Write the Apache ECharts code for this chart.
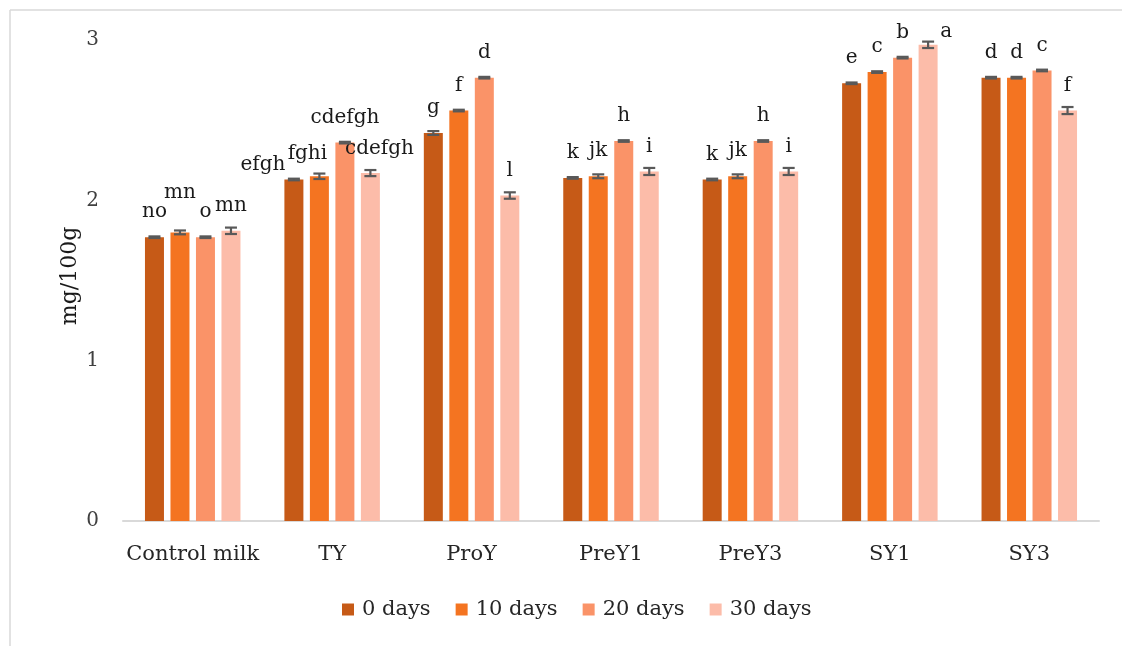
<!DOCTYPE html>
<html>
<head>
<meta charset="utf-8">
<script src="https://cdn.jsdelivr.net/npm/echarts@6/dist/echarts.min.js"></script>
<style>
  html, body { margin: 0; padding: 0; background: #ffffff; }
  #chart { width: 1122px; height: 646px; }
</style>
</head>
<body>
<div id="chart"></div>
<script>
// Sample groups on the x axis
const categories = ['Control milk', 'TY', 'ProY', 'PreY1', 'PreY3', 'SY1', 'SY3'];
const seriesNames = ['0 days', '10 days', '20 days', '30 days'];

// Mean content (mg/100g) per storage day
const day0  = [1.77, 2.13, 2.42, 2.14, 2.13, 2.73, 2.765];
const day10 = [1.80, 2.15, 2.56, 2.15, 2.15, 2.80, 2.765];
const day20 = [1.77, 2.36, 2.765, 2.37, 2.37, 2.89, 2.81];
const day30 = [1.81, 2.17, 2.03, 2.18, 2.18, 2.97, 2.56];

// Standard deviation (half length of each error bar)
const err0  = [0.005, 0.005, 0.012, 0.005, 0.005, 0.005, 0.005];
const err10 = [0.012, 0.017, 0.005, 0.012, 0.012, 0.005, 0.005];
const err20 = [0.005, 0.005, 0.005, 0.005, 0.005, 0.005, 0.005];
const err30 = [0.02, 0.019, 0.02, 0.022, 0.022, 0.02, 0.022];

// Significance letters above each bar
const letters0  = ['no', 'efgh', 'g', 'k', 'k', 'e', 'd'];
const letters10 = ['mn', 'fghi', 'f', 'jk', 'jk', 'c', 'd'];
const letters20 = ['o', 'cdefgh', 'd', 'h', 'h', 'b', 'c'];
const letters30 = ['mn', 'cdefgh', 'l', 'i', 'i', 'a', 'f'];

// Y axis ticks
const yTicks = [0, 1, 2, 3];

const values = [day0, day10, day20, day30];
const errors = [err0, err10, err20, err30];
const letters = [letters0, letters10, letters20, letters30];
const colors = ['#C65A17', '#F47421', '#FA9368', '#FCBCA9'];

// Letter placement tweaks where letters would collide: [series]-[category] -> [dx, dy]
const labelNudge = {
  '1-0': [0, -15],
  '0-1': [-31, 10],
  '1-1': [-12, 3],
  '3-1': [9, 1],
  '3-5': [18, 12]
};

const BAR_W = 19;
const BAR_STEP = 25.5;
const serif = 'DejaVu Serif';

const chart = echarts.init(document.getElementById('chart'));

const barSeries = values.map((vals, s) => ({
  name: seriesNames[s],
  type: 'bar',
  barWidth: BAR_W,
  barGap: ((BAR_STEP - BAR_W) / BAR_W * 100).toFixed(1) + '%',
  itemStyle: { color: colors[s] },
  z: 2,
  data: vals.map((v, c) => {
    const nudge = labelNudge[s + '-' + c];
    const item = { value: v };
    if (nudge) item.label = { offset: nudge };
    return item;
  }),
  label: {
    show: true,
    position: 'top',
    distance: 15,
    fontFamily: serif,
    fontSize: 20,
    color: '#1a1a1a',
    formatter: p => letters[s][p.dataIndex]
  }
}));

const errorSeries = values.map((vals, s) => ({
  name: seriesNames[s] + ' sd',
  type: 'custom',
  z: 5,
  silent: true,
  data: vals.map((v, c) => [c, v, errors[s][c]]),
  renderItem: (params, api) => {
    const c = api.value(0), v = api.value(1), e = api.value(2);
    const dx = (s - 1.5) * BAR_STEP;
    const hi = api.coord([c, v + e]);
    const lo = api.coord([c, v - e]);
    const x = hi[0] + dx;
    const half = 6;
    const style = { stroke: '#595959', lineWidth: 2.2 };
    return {
      type: 'group',
      children: [
        { type: 'line', shape: { x1: x, y1: hi[1], x2: x, y2: lo[1] }, style },
        { type: 'line', shape: { x1: x - half, y1: hi[1], x2: x + half, y2: hi[1] }, style },
        { type: 'line', shape: { x1: x - half, y1: lo[1], x2: x + half, y2: lo[1] }, style }
      ]
    };
  }
}));

chart.setOption({
  animation: false,
  backgroundColor: '#ffffff',
  grid: { left: 123, right: 23, top: 40, bottom: 125 },
  legend: {
    data: seriesNames,
    left: 337,
    top: 594,
    itemWidth: 12,
    itemHeight: 12,
    itemGap: 25,
    icon: 'rect',
    textStyle: { fontFamily: serif, fontSize: 21, color: '#262626', padding: [0, 0, 0, 3] }
  },
  xAxis: {
    type: 'category',
    data: categories,
    axisLine: { lineStyle: { color: '#D9D9D9', width: 2 } },
    axisTick: { show: false },
    axisLabel: { interval: 0, fontFamily: serif, fontSize: 21, color: '#262626', margin: 23 }
  },
  yAxis: {
    type: 'value',
    min: yTicks[0],
    max: yTicks[yTicks.length - 1],
    interval: 1,
    axisLine: { show: false },
    axisTick: { show: false },
    splitLine: { show: false },
    axisLabel: { fontFamily: serif, fontSize: 20, color: '#404040', margin: 24 }
  },
  graphic: [
    { type: 'line', shape: { x1: 10, y1: 10, x2: 1122, y2: 10 }, style: { stroke: '#D9D9D9', lineWidth: 1.5 } },
    { type: 'line', shape: { x1: 10, y1: 10, x2: 10, y2: 646 }, style: { stroke: '#D9D9D9', lineWidth: 1.5 } },
    {
      type: 'text',
      x: 70, y: 276,
      rotation: Math.PI / 2,
      style: {
        text: 'mg/100g',
        fontFamily: serif,
        fontSize: 22,
        fill: '#1a1a1a',
        textAlign: 'center',
        textVerticalAlign: 'middle'
      }
    }
  ],
  series: barSeries.concat(errorSeries)
});
</script>
</body>
</html>
